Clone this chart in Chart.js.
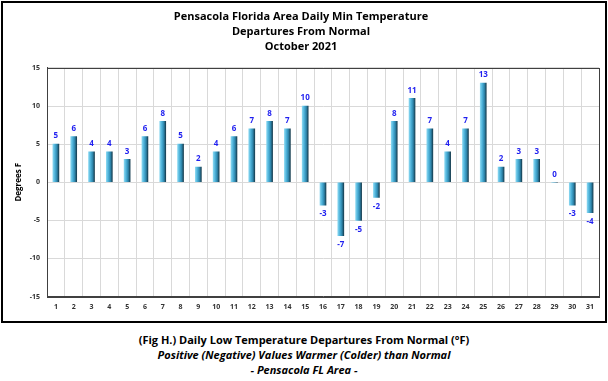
<!doctype html>
<html lang="en">
<head>
<meta charset="utf-8">
<title>Pensacola Daily Min Temperature Departures</title>
<script src="https://cdn.jsdelivr.net/npm/chart.js@4"></script>
<style>
  body { margin: 0; background: #fff; font-family: "Open Sans", sans-serif; }
  #box { position: absolute; left: 1px; top: 1px; width: 602px; height: 318px; border: 2px solid #000; }
  #caption { position: absolute; left: 0; top: 332px; width: 608px; text-align: center; font-size: 11px; line-height: 15px; font-weight: bold; color: #000; }
  #caption i { font-weight: bold; }
</style>
</head>
<body>
<div id="box"><canvas id="myChart" width="602" height="318"></canvas></div>
<div id="caption">
  (Fig H.) Daily Low Temperature Departures From Normal (&deg;F)<br>
  <i>Positive (Negative) Values Warmer (Colder) than Normal</i><br>
  <i>- Pensacola FL Area -</i>
</div>
<script>
// days of October 2021
var days = ["1","2","3","4","5","6","7","8","9","10","11","12","13","14","15","16","17","18","19","20","21","22","23","24","25","26","27","28","29","30","31"];
// daily low departure from normal, deg F
var departures = [5, 6, 4, 4, 3, 6, 8, 5, 2, 4, 6, 7, 8, 7, 10, -3, -7, -5, -2, 8, 11, 7, 4, 7, 13, 2, 3, 3, 0, -3, -4];
var yTicks = [-15, -10, -5, 0, 5, 10, 15];
var titleLines = ["Pensacola Florida Area Daily Min Temperature", "Departures From Normal", "October 2021"];

// blue shaded bar, light on the left, dark on the right
function barFill(c) {
  var chart = c.chart;
  var xs = chart.scales && chart.scales.x;
  if (!xs || !chart.chartArea) return '#45a7cf';
  var x = xs.getPixelForValue(c.dataIndex);
  var g = chart.ctx.createLinearGradient(x - 3, 0, x + 3, 0);
  g.addColorStop(0, '#86d6f0');
  g.addColorStop(0.35, '#4bb0d8');
  g.addColorStop(0.7, '#2d83a8');
  g.addColorStop(1, '#173f52');
  return g;
}

// value labels above / below each bar
var valueLabels = {
  id: 'valueLabels',
  afterDatasetsDraw: function(chart) {
    var ctx = chart.ctx;
    var meta = chart.getDatasetMeta(0);
    ctx.save();
    ctx.font = 'bold 8px "Open Sans"';
    ctx.fillStyle = '#1f1ff0';
    ctx.textAlign = 'center';
    meta.data.forEach(function(bar, i) {
      var v = departures[i];
      if (v >= 0) {
        ctx.textBaseline = 'bottom';
        ctx.fillText(String(v), bar.x, bar.y - 4);
      } else {
        ctx.textBaseline = 'top';
        ctx.fillText(String(v), bar.x, bar.y + 5);
      }
    });
    ctx.restore();
  }
};

// frame round the plot area
var plotFrame = {
  id: 'plotFrame',
  afterDraw: function(chart) {
    var a = chart.chartArea, ctx = chart.ctx;
    ctx.save();
    ctx.strokeStyle = '#404040';
    ctx.lineWidth = 1;
    ctx.strokeRect(Math.round(a.left) + 0.5, Math.round(a.top) + 0.5, Math.round(a.right - a.left), Math.round(a.bottom - a.top));
    ctx.restore();
  }
};

var ctx = document.getElementById("myChart");
var myChart = new Chart(ctx, {
  type: 'bar',
  data: {
    labels: days,
    datasets: [{
      data: departures,
      backgroundColor: barFill,
      borderWidth: 0,
      barThickness: 6
    }]
  },
  options: {
    responsive: false,
    animation: false,
    layout: { padding: { left: 0, right: 6, top: 4, bottom: 4 } },
    plugins: {
      legend: { display: false },
      tooltip: { enabled: false },
      title: {
        display: true,
        text: titleLines,
        color: '#000',
        font: { family: '"Open Sans"', size: 11, weight: 'bold', lineHeight: 1.36 },
        padding: { top: 2, bottom: 14 }
      }
    },
    scales: {
      x: {
        grid: { color: '#d9d9d9', offset: true, drawTicks: false },
        border: { color: '#404040' },
        ticks: { color: '#333', font: { family: '"Open Sans"', size: 7, weight: 'bold' }, padding: 6, maxRotation: 0, autoSkip: false }
      },
      y: {
        min: -15, max: 15,
        afterBuildTicks: function(axis) { axis.ticks = yTicks.map(function(v) { return { value: v }; }); },
        afterFit: function(axis) { axis.width = 44; },
        grid: { color: '#d9d9d9', drawTicks: false },
        border: { color: '#404040' },
        ticks: { color: '#333', font: { family: '"Open Sans"', size: 7, weight: 'bold' }, padding: 7 },
        title: { display: true, text: 'Degrees F', color: '#000', font: { family: '"Open Sans"', size: 8, weight: 'bold' }, padding: { top: 11, bottom: 0 } }
      }
    }
  },
  plugins: [valueLabels, plotFrame]
});
</script>
</body>
</html>
